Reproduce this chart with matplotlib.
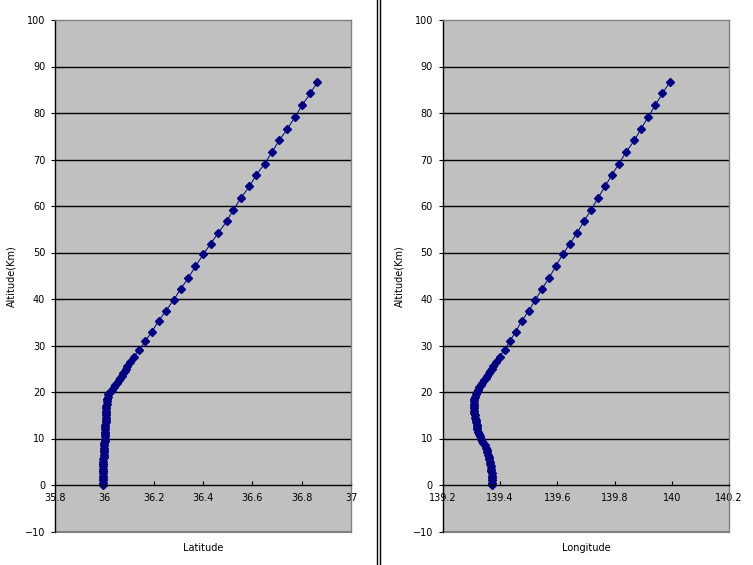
import matplotlib
matplotlib.use("Agg")
import matplotlib.pyplot as plt
from matplotlib.lines import Line2D

# altitude (km), shared by both profiles
altitude = [0.0, 0.5, 1.0, 1.5, 2.0, 2.5, 3.0, 3.5, 4.0, 4.5,
            5.0, 5.5, 6.0, 6.5, 7.0, 7.5, 8.0, 8.5, 9.0, 9.5,
            10.0, 10.5, 11.0, 11.5, 12.0, 12.5, 13.0, 13.5, 14.0, 14.5,
            15.0, 15.5, 16.0, 16.5, 17.0, 17.5, 18.0, 18.5, 19.0, 19.5,
            20.0, 20.5, 21.0, 21.5, 22.0, 22.5, 23.0, 23.5, 24.0, 24.5,
            25.0, 25.5, 26.4, 27.6, 29.1, 30.9, 33.0, 35.3, 37.4, 39.8,
            42.2, 44.5, 47.0, 49.6, 51.9, 54.2, 56.7, 59.2, 61.8, 64.2,
            66.7, 69.1, 71.7, 74.1, 76.6, 79.2, 81.7, 84.2, 86.6]

latitude = [35.995, 35.995, 35.995, 35.995, 35.995, 35.995, 35.995, 35.995, 35.995, 35.996,
            35.996, 35.996, 35.997, 35.997, 35.998, 35.998, 35.999, 36.000, 36.000, 36.001,
            36.002, 36.002, 36.003, 36.003, 36.004, 36.004, 36.004, 36.005, 36.005, 36.005,
            36.006, 36.006, 36.007, 36.008, 36.008, 36.009, 36.010, 36.011, 36.013, 36.016,
            36.022, 36.030, 36.038, 36.045, 36.052, 36.058, 36.064, 36.070, 36.076, 36.082,
            36.087, 36.093, 36.105, 36.119, 36.142, 36.166, 36.193, 36.220, 36.249, 36.281,
            36.310, 36.340, 36.369, 36.401, 36.431, 36.462, 36.496, 36.523, 36.555, 36.588,
            36.616, 36.650, 36.681, 36.709, 36.742, 36.774, 36.802, 36.835, 36.863]

longitude = [139.373, 139.373, 139.373, 139.372, 139.372, 139.371, 139.370, 139.369, 139.368, 139.366,
             139.364, 139.362, 139.360, 139.358, 139.356, 139.354, 139.352, 139.346, 139.341, 139.337,
             139.333, 139.330, 139.326, 139.323, 139.321, 139.319, 139.318, 139.316, 139.315, 139.313,
             139.311, 139.310, 139.309, 139.308, 139.308, 139.308, 139.309, 139.310, 139.312, 139.315,
             139.318, 139.322, 139.327, 139.332, 139.338, 139.344, 139.350, 139.355, 139.360, 139.366,
             139.371, 139.377, 139.386, 139.399, 139.416, 139.434, 139.455, 139.476, 139.500, 139.523,
             139.547, 139.571, 139.594, 139.619, 139.644, 139.669, 139.693, 139.718, 139.743, 139.766,
             139.791, 139.815, 139.841, 139.869, 139.892, 139.918, 139.942, 139.967, 139.992]

lat_ticks = [35.8, 36.0, 36.2, 36.4, 36.6, 36.8, 37.0]
lat_labels = ["35.8", "36", "36.2", "36.4", "36.6", "36.8", "37"]
lon_ticks = [139.2, 139.4, 139.6, 139.8, 140.0, 140.2]
lon_labels = ["139.2", "139.4", "139.6", "139.8", "140", "140.2"]
alt_ticks = [-10, 0, 10, 20, 30, 40, 50, 60, 70, 80, 90, 100]

plt.rcParams['font.family'] = ['DejaVu Sans']
W, H = 753, 565
fig = plt.figure(figsize=(W / 100, H / 100), dpi=100)


def panel(rect, xs, ticks, labels, xname):
    ax = fig.add_axes(rect)
    ax.set_facecolor("#c0c0c0")
    ax.plot(xs, altitude, color="#000080", lw=0.7, marker="D",
            markersize=4.0, markerfacecolor="#000080", markeredgecolor="#000080")
    ax.set_xlim(ticks[0], ticks[-1])
    ax.set_ylim(-10, 100)
    for v in alt_ticks[2:-1]:
        ax.axhline(v, color="black", lw=1.0, zorder=0.5)
    ax.axhline(-10, color="#808080", lw=1.5, clip_on=False)
    ax.spines['bottom'].set_position(('data', 0))
    ax.spines['bottom'].set_color("black")
    ax.spines['left'].set_color("black")
    ax.spines['top'].set_color("#808080")
    ax.spines['right'].set_color("#808080")
    for s in ax.spines.values():
        s.set_linewidth(1.0)
    ax.set_xticks(ticks)
    ax.set_xticklabels(labels)
    ax.set_yticks(alt_ticks)
    ax.tick_params(axis='x', direction='in', length=3, pad=6, labelsize=7)
    ax.tick_params(axis='y', direction='out', length=3, pad=4, labelsize=7)
    ax.set_ylabel("Altitude(Km)", fontsize=7, labelpad=6)
    ax.text(0.5, -0.022, xname, transform=ax.transAxes, ha='center', va='top', fontsize=7)
    return ax


panel([55 / W, 1 - 531.5 / H, 296 / W, 511.5 / H], latitude, lat_ticks, lat_labels, "Latitude")
panel([442.7 / W, 1 - 531.5 / H, 286.5 / W, 511.5 / H], longitude, lon_ticks, lon_labels, "Longitude")

for xp in (377, 380):
    fig.add_artist(Line2D([xp / W, xp / W], [0, 1], transform=fig.transFigure, color="black", lw=1.0))

fig.savefig("out.png", dpi=100)
